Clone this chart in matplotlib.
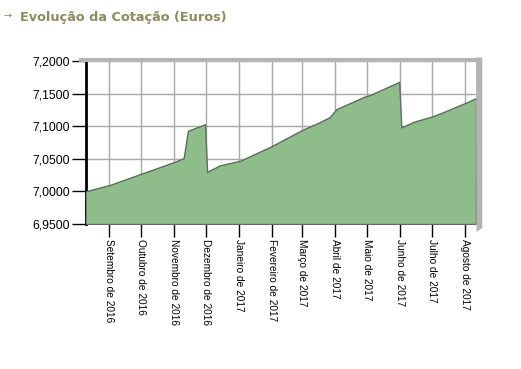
import matplotlib
matplotlib.use("Agg")
import matplotlib.pyplot as plt
import matplotlib.dates as mdates
import matplotlib.patches as mpatches
import numpy as np
import datetime as dt

# ---- data ----
dates = ["2016-08-10", "2016-09-02", "2016-11-01", "2016-11-10", "2016-11-14",
         "2016-11-30", "2016-12-02", "2016-12-14", "2017-01-02", "2017-01-31",
         "2017-03-02", "2017-03-16", "2017-03-27", "2017-04-02", "2017-04-28",
         "2017-05-04", "2017-05-31", "2017-06-02", "2017-06-14", "2017-07-01",
         "2017-07-12", "2017-07-31", "2017-08-11"]
values = [7.000, 7.010, 7.045, 7.051, 7.093,
          7.103, 7.030, 7.040, 7.047, 7.069,
          7.095, 7.105, 7.114, 7.126, 7.145,
          7.148, 7.168, 7.098, 7.107, 7.115,
          7.122, 7.135, 7.143]
tick_dates = ["2016-09-01", "2016-10-01", "2016-11-01", "2016-12-01", "2017-01-01",
              "2017-02-01", "2017-03-01", "2017-04-01", "2017-05-01", "2017-06-01",
              "2017-07-01", "2017-08-01"]
tick_labels = ["Setembro de 2016", "Outubro de 2016", "Novembro de 2016",
               "Dezembro de 2016", "Janeiro de 2017", "Fevereiro de 2017",
               "Março de 2017", "Abril de 2017", "Maio de 2017", "Junho de 2017",
               "Julho de 2017", "Agosto de 2017"]
y_ticks = [6.95, 7.00, 7.05, 7.10, 7.15, 7.20]
y_labels = ["6,9500", "7,0000", "7,0500", "7,1000", "7,1500", "7,2000"]
title = "Evolução da Cotação (Euros)"

x = [dt.datetime.strptime(d, "%Y-%m-%d") for d in dates]
xt = [dt.datetime.strptime(d, "%Y-%m-%d") for d in tick_dates]

W, H = 521, 369
fig = plt.figure(figsize=(W / 100, H / 100), dpi=100)
fig.patch.set_facecolor("white")

L, R, T, B = 85.5, 476, 61, 224
ax = fig.add_axes([L / W, 1 - B / H, (R - L) / W, (B - T) / H])

# shadow bars (top and right)
fig.patches.append(mpatches.Rectangle((79 / W, 1 - 61.5 / H), (482 - 79) / W, 4 / H,
                                      transform=fig.transFigure, facecolor="#b4b4b4",
                                      edgecolor="none", zorder=0))
fig.patches.append(mpatches.Polygon([(476 / W, 1 - 57.5 / H), (482.3 / W, 1 - 57.5 / H),
                                     (482.3 / W, 1 - 228 / H), (476.5 / W, 1 - 232 / H)],
                                    closed=True, transform=fig.transFigure,
                                    facecolor="#b4b4b4", edgecolor="none", zorder=0))

ax.fill_between(x, values, 6.95, facecolor="#8fbc8b", edgecolor="#5f6b5f",
                linewidth=1.0, zorder=3)

ax.set_xlim(x[0], x[-1])
ax.set_ylim(6.95, 7.20)

ax.set_yticks(y_ticks)
ax.set_yticklabels(y_labels, fontsize=8.7, family="Liberation Sans")
ax.set_xticks(xt)
ax.set_xticklabels(tick_labels, rotation=270, fontsize=7.3, family="Liberation Sans",
                   va="top", ha="center")

ax.tick_params(axis="y", direction="out", length=10, width=1, pad=1, colors="black")
ax.tick_params(axis="x", direction="out", length=9, width=1, pad=1.5, colors="black")

ax.grid(True, color="#a8a8a8", linewidth=1)
ax.set_axisbelow(True)

for s in ["top", "right", "bottom"]:
    ax.spines[s].set_visible(False)
ax.spines["left"].set_linewidth(2)
ax.spines["left"].set_color("black")
ax.spines["left"].set_zorder(2)

fig.text(3 / W, 1 - 19 / H, "→", fontsize=7, color="#8a8c5c", va="baseline",
         family="DejaVu Sans")
fig.text(20 / W, 1 - 21.5 / H, title, fontsize=9.3, fontweight="bold",
         color="#8a8c5c", va="baseline", family="DejaVu Sans")

fig.savefig("out.png", dpi=100)
